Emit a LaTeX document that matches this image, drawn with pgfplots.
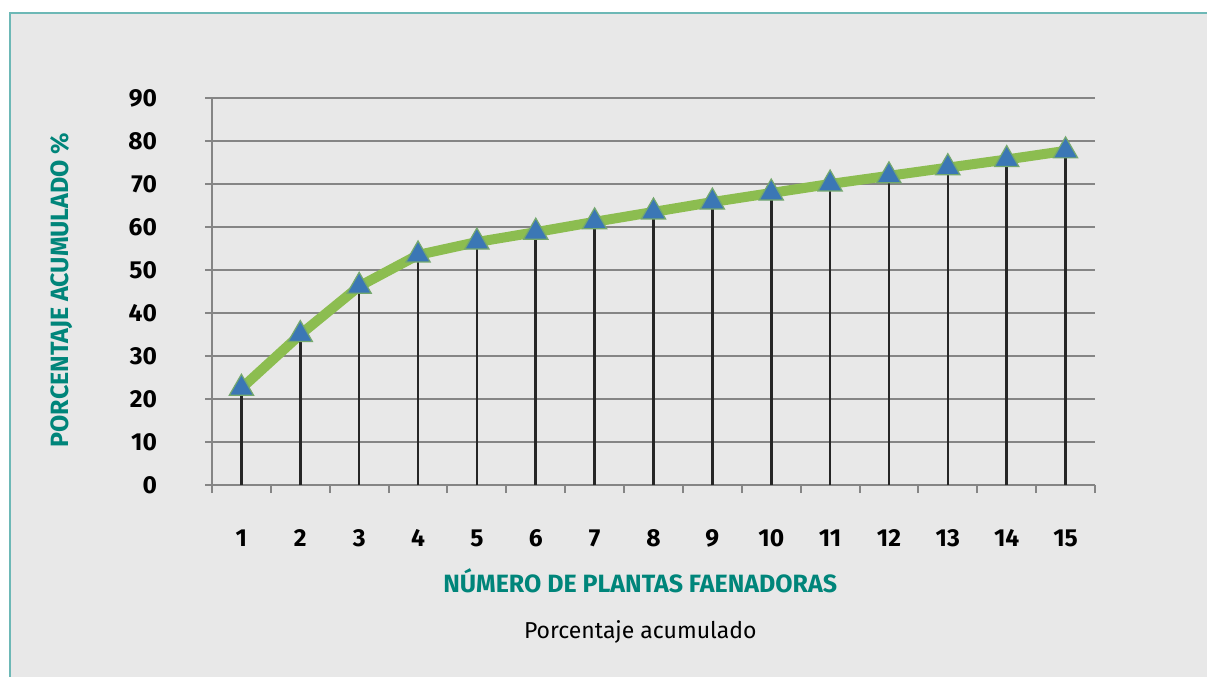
\documentclass[border=0pt]{standalone}
\usepackage{pgfplots}
\pgfplotsset{compat=1.18}
\usepackage{fontspec}
\setmainfont{Fira Sans}

\definecolor{bgc}{HTML}{E8E8E8}
\definecolor{frame}{HTML}{6DB8B6}
\definecolor{tealtxt}{HTML}{00857A}
\definecolor{linegreen}{HTML}{8CBD50}
\definecolor{markblue}{HTML}{3B77B5}
\definecolor{gridc}{HTML}{858585}

\pgfplotstableread{
x y
1 22.5
2 35.0
3 46.2
4 53.5
5 56.5
6 58.8
7 61.2
8 63.5
9 65.8
10 67.9
11 70.0
12 71.9
13 73.8
14 75.7
15 77.7
}\acumulado

\begin{document}
\begin{tikzpicture}
  % page: white strip, grey card with teal edge on top and left
  \fill[white] (0,0) rectangle (603.5bp,338.5bp);
  \fill[bgc] (5bp,0) rectangle (603.5bp,332bp);
  \draw[frame, line width=1.2bp] (5bp,0) -- (5bp,332bp) -- (603.5bp,332bp);

  \begin{axis}[
      at={(106bp,96bp)}, anchor=south west,
      scale only axis,
      width=441.5bp, height=193.5bp,
      xmin=0.5, xmax=15.5,
      ymin=0, ymax=90,
      clip=false,
      axis x line*=bottom,
      axis y line*=left,
      axis line style={gridc, line width=1bp},
      xtick={1,...,15},
      minor xtick={0.5,1.5,...,15.5},
      major x tick style={draw=none},
      minor x tick style={gridc, line width=1bp},
      minor tick length=4bp,
      ytick={0,10,...,90},
      y tick style={gridc, line width=1bp},
      major tick length=3.5bp,
      tick align=outside,
      ymajorgrids,
      major grid style={gridc, line width=1bp},
      /pgf/number format/assume math mode=true,
      tick label style={font=\fontsize{12.3bp}{14bp}\selectfont\bfseries, text=black},
      yticklabel style={anchor=east, xshift=-20.5bp},
      xticklabel style={anchor=center, yshift=-23bp},
      xlabel={NÚMERO DE PLANTAS FAENADORAS},
      ylabel={PORCENTAJE ACUMULADO \%},
      label style={font=\fontsize{12.5bp}{15bp}\selectfont\bfseries, text=tealtxt},
      xlabel style={at={(axis description cs:0.485,-0.248)}, anchor=center},
      ylabel style={at={(axis description cs:-0.170,0.504)}, anchor=center},
    ]
    \addplot[linegreen, line width=5bp, line join=round, mark=none] table[x=x, y=y] {\acumulado};
    \addplot[only marks, mark=triangle*, mark size=7bp,
      mark options={fill=markblue, draw=linegreen!70!markblue, line width=0.6bp}]
      table[x=x, y=y] {\acumulado};
    \addplot[ycomb, black!85, line width=1.3bp, mark=none] table[x=x, y=y] {\acumulado};
    \node[font=\fontsize{11.5bp}{13bp}\selectfont, anchor=center]
      at (axis description cs:0.485,-0.38) {Porcentaje acumulado};
  \end{axis}

  \pgfresetboundingbox
  \path (0,0) rectangle (603.5bp,338.5bp);
\end{tikzpicture}
\end{document}
